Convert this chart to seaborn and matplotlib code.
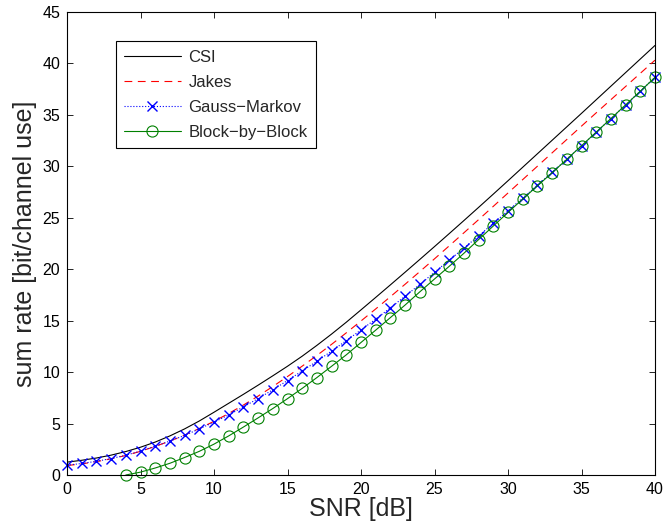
import numpy as np
import pandas as pd
import matplotlib
matplotlib.use("Agg")
import matplotlib.pyplot as plt
import seaborn as sns

# SNR grid [dB]
snr = list(range(0, 41))
snr_bbb = list(range(4, 41))

# values
csi = [1.25, 1.43, 1.65, 1.93, 2.28, 2.70, 3.20, 3.80, 4.48, 5.25,
       6.10, 6.97, 7.84, 8.73, 9.64, 10.57, 11.55, 12.60, 13.70, 14.85,
       16.05, 17.26, 18.48, 19.71, 20.95, 22.20, 23.46, 24.73, 26.01, 27.30,
       28.60, 29.91, 31.22, 32.53, 33.84, 35.15, 36.47, 37.79, 39.11, 40.43,
       41.75]
jakes = [0.92, 1.08, 1.30, 1.57, 1.90, 2.30, 2.78, 3.30, 3.88, 4.52,
         5.22, 5.98, 6.80, 7.67, 8.60, 9.57, 10.58, 11.62, 12.70, 13.82,
         14.97, 16.14, 17.33, 18.54, 19.77, 21.01, 22.27, 23.54, 24.82, 26.11,
         27.41, 28.71, 30.01, 31.31, 32.61, 33.91, 35.20, 36.48, 37.76, 39.04,
         40.32]
gauss_markov = [0.95, 1.12, 1.33, 1.60, 1.92, 2.33, 2.80, 3.30, 3.85, 4.48,
                5.14, 5.84, 6.62, 7.43, 8.28, 9.18, 10.12, 11.05, 12.05, 13.06,
                14.10, 15.15, 16.25, 17.38, 18.52, 19.70, 20.88, 22.05, 23.25, 24.45,
                25.68, 26.92, 28.16, 29.42, 30.70, 32.00, 33.32, 34.64, 35.97, 37.30,
                38.65]
block_by_block = [0.00, 0.28, 0.68, 1.14, 1.70, 2.30, 3.00, 3.80, 4.66, 5.55,
                  6.46, 7.42, 8.42, 9.47, 10.57, 11.68, 12.88, 14.08, 15.30, 16.52,
                  17.80, 19.05, 20.28, 21.55, 22.88, 24.20, 25.52, 26.82, 28.10, 29.38,
                  30.68, 32.00, 33.32, 34.64, 35.97, 37.30, 38.65]

labels = ["CSI", "Jakes", "Gauss\u2212Markov", "Block\u2212by\u2212Block"]

sns.set_style("ticks")
plt.rcParams["font.family"] = ["Liberation Sans", "DejaVu Sans"]
plt.rcParams["xtick.direction"] = "in"
plt.rcParams["ytick.direction"] = "in"

fig = plt.figure(figsize=(6.63, 5.27), dpi=100)
ax = fig.add_axes([67 / 663, 52 / 527, 588 / 663, 463 / 527])

df = pd.DataFrame({"snr": snr, "csi": csi, "jakes": jakes, "gm": gauss_markov})
df_b = pd.DataFrame({"snr": snr_bbb, "bbb": block_by_block})

sns.lineplot(data=df, x="snr", y="csi", ax=ax, color="black", lw=0.8,
             label=labels[0], estimator=None)
sns.lineplot(data=df, x="snr", y="jakes", ax=ax, color="red", lw=0.8,
             linestyle=(0, (7, 5)), label=labels[1], estimator=None)
sns.lineplot(data=df, x="snr", y="gm", ax=ax, color="blue", lw=0.8,
             linestyle=":", marker="x", markersize=6.5, markeredgewidth=1.0,
             markeredgecolor="blue", label=labels[2], estimator=None,
             clip_on=False)
sns.lineplot(data=df_b, x="snr", y="bbb", ax=ax, color="green", lw=0.8,
             marker="o", markersize=8, markerfacecolor="none",
             markeredgecolor="green", markeredgewidth=0.8,
             label=labels[3], estimator=None, clip_on=False)

ax.set_xlim(0, 40)
ax.set_ylim(0, 45)
ax.set_xticks(range(0, 41, 5))
ax.set_yticks(range(0, 46, 5))
ax.tick_params(which="both", top=True, right=True, length=4, width=0.6,
               labelsize=11.5, colors="black", pad=5)
for s in ax.spines.values():
    s.set_linewidth(0.8)
    s.set_color("black")
    s.set_visible(True)

ax.set_xlabel("SNR [dB]", fontsize=18, labelpad=0)
ax.set_ylabel("sum rate [bit/channel use]", fontsize=18, labelpad=4)

leg = ax.legend(loc="upper left", bbox_to_anchor=(0.083, 0.937),
                borderaxespad=0, fontsize=12, frameon=True, fancybox=False,
                edgecolor="black", framealpha=1, handlelength=3.4,
                handletextpad=0.45, labelspacing=0.6, borderpad=0.5)
leg.get_frame().set_linewidth(0.8)

fig.savefig("out.png", dpi=100)
